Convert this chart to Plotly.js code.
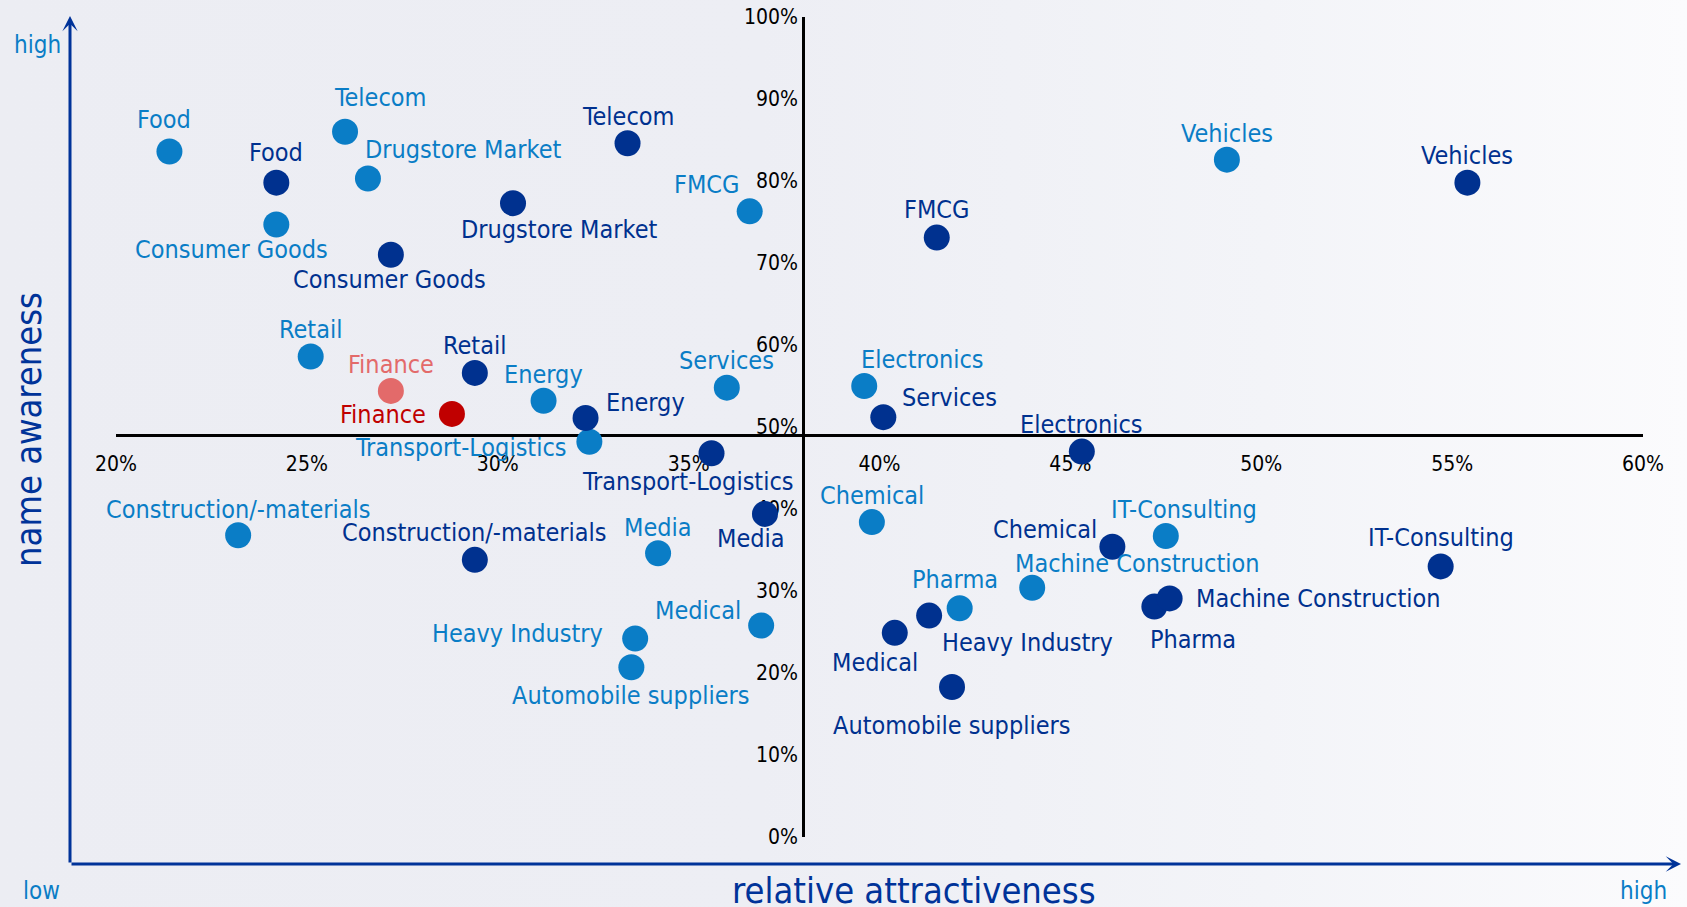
<!DOCTYPE html>
<html>
<head>
<meta charset="utf-8">
<script src="https://cdn.plot.ly/plotly-3.0.1.min.js"></script>
<style>
  html, body { margin: 0; padding: 0; }
  body {
    width: 1687px; height: 907px; overflow: hidden;
    background: linear-gradient(to right, #ECEDF3 0%, #EDEEF4 45%, #F3F4F8 75%, #FBFBFD 100%);
  }
  #chart { width: 1687px; height: 907px; }
</style>
</head>
<body>
<div id="chart"></div>
<script>
// ---------------- data ----------------
const sectors = ['Food', 'Telecom', 'Drugstore Market', 'Consumer Goods', 'Retail', 'Finance', 'Energy',
  'Transport-Logistics', 'FMCG', 'Services', 'Electronics', 'Vehicles', 'Construction/-materials', 'Media',
  'Medical', 'Heavy Industry', 'Automobile suppliers', 'Chemical', 'Pharma', 'Machine Construction', 'IT-Consulting'];

// light-blue series
const attractA = [21.4, 26.0, 26.6, 24.2, 25.1, 27.2, 31.2, 32.4, 36.6, 36.0, 39.6, 49.1, 23.2, 34.2, 36.9, 33.6, 33.5, 39.8, 42.1, 44.0, 47.5];
const awareA   = [83.6, 86.0, 80.3, 74.7, 58.6, 54.4, 53.2, 48.2, 76.3, 54.8, 55.0, 82.6, 36.8, 34.6, 25.8, 24.2, 20.7, 38.4, 27.9, 30.4, 36.7];
// dark-blue series
const attractB = [24.2, 33.4, 30.4, 27.2, 29.4, 28.8, 32.3, 35.6, 41.5, 40.1, 45.3, 55.4, 29.4, 37.0, 40.4, 41.3, 41.9, 46.1, 47.2, 47.6, 54.7];
const awareB   = [79.8, 84.6, 77.3, 71.0, 56.6, 51.6, 51.1, 46.8, 73.1, 51.2, 47.0, 79.8, 33.8, 39.4, 24.9, 27.0, 18.3, 35.4, 28.1, 29.1, 33.0];

const highlight = 'Finance';
const xTickVals = [20, 25, 30, 35, 40, 45, 50, 55, 60];
const yTickVals = [0, 10, 20, 30, 40, 50, 60, 70, 80, 90, 100];

// ---------------- styles / label placement ----------------
const COL_A = '#0A7DC6', COL_B = '#00318F', COL_A_HI = '#E36A6A', COL_B_HI = '#C00000', TITLE_COL = '#003399';
const FONT = '"DejaVu Sans Condensed", "DejaVu Sans", sans-serif';
const LABEL_SIZE = 25;
const xRange = [20, 60], yRange = [0, 100];
const crossX = 38, crossY = 49;

// [anchor, dx, dy] in pixels (dy positive = down)
const labA = [['center',-5,-32],['left',-13,-34],['left',-5,-29],['right',54,25],['center',0,-27],['center',0,-26],['center',0,-26],
  ['right',-20,6],['right',-8,-27],['center',0,-27],['left',-5,-27],['center',0,-26],['center',0,-26],['center',0,-26],
  ['right',-18,-15],['right',-30,-5],['center',0,28],['center',0,-27],['center',-5,-29],['left',-19,-24],['left',-57,-27]];
const labB = [['center',0,-30],['center',0,-27],['left',-54,26],['center',-1,25],['center',0,-27],['right',-24,1],['left',18,-15],
  ['center',-24,28],['center',0,-28],['left',17,-20],['center',0,-27],['center',0,-27],['center',0,-27],['center',-14,25],
  ['center',-20,30],['left',11,27],['center',0,39],['right',-13,-17],['left',-6,33],['left',24,0],['center',0,-29]];

const colorsA = sectors.map(s => s === highlight ? COL_A_HI : COL_A);
const colorsB = sectors.map(s => s === highlight ? COL_B_HI : COL_B);

const traces = [
  { x: attractA, y: awareA, type: 'scatter', mode: 'markers', name: 'A', hoverinfo: 'skip', cliponaxis: false,
    marker: { size: 26, color: colorsA } },
  { x: attractB, y: awareB, type: 'scatter', mode: 'markers', name: 'B', hoverinfo: 'skip', cliponaxis: false,
    marker: { size: 26, color: colorsB } }
];

const annotations = [];
function addLabels(xs, ys, labs, colors) {
  sectors.forEach((s, i) => {
    const [anc, dx, dy] = labs[i];
    annotations.push({ x: xs[i], y: ys[i], xref: 'x', yref: 'y', text: s, showarrow: false,
      xanchor: anc, yanchor: 'middle', xshift: dx, yshift: -dy,
      font: { family: FONT, size: LABEL_SIZE, color: colors[i] } });
  });
}
addLabels(attractA, awareA, labA, colorsA);
addLabels(attractB, awareB, labB, colorsB);

// plot geometry (pixels)
const W = 1687, H = 907;
const M = { l: 116, r: 44, t: 17, b: 70 };
const PW = W - M.l - M.r, PH = H - M.t - M.b;
const px = x => (x - M.l) / PW;          // pixel x -> paper
const py = y => 1 - (y - M.t) / PH;      // pixel y -> paper

// outer arrows
annotations.push({ x: px(70), y: py(16), xref: 'paper', yref: 'paper', ax: 0, ay: 864 - 16, axref: 'pixel', ayref: 'pixel',
  text: '', showarrow: true, arrowhead: 3, arrowsize: 0.85, arrowwidth: 3, arrowcolor: TITLE_COL });
annotations.push({ x: px(1681), y: py(864), xref: 'paper', yref: 'paper', ax: -(1681 - 70), ay: 0,
  text: '', showarrow: true, arrowhead: 3, arrowsize: 0.85, arrowwidth: 3, arrowcolor: TITLE_COL });

// corner texts and titles
annotations.push({ x: px(37), y: py(45), xref: 'paper', yref: 'paper', text: 'high', showarrow: false,
  xanchor: 'center', yanchor: 'middle', font: { family: FONT, size: 24, color: COL_A } });
annotations.push({ x: px(41), y: py(891), xref: 'paper', yref: 'paper', text: 'low', showarrow: false,
  xanchor: 'center', yanchor: 'middle', font: { family: FONT, size: 24, color: COL_A } });
annotations.push({ x: px(1643), y: py(891), xref: 'paper', yref: 'paper', text: 'high', showarrow: false,
  xanchor: 'center', yanchor: 'middle', font: { family: FONT, size: 24, color: COL_A } });
annotations.push({ x: px(914), y: py(890), xref: 'paper', yref: 'paper', text: 'relative attractiveness', showarrow: false,
  xanchor: 'center', yanchor: 'middle', font: { family: FONT, size: 36, color: TITLE_COL } });
annotations.push({ x: px(28), y: py(430), xref: 'paper', yref: 'paper', text: 'name awareness', showarrow: false,
  textangle: -90, xanchor: 'center', yanchor: 'middle', font: { family: FONT, size: 36, color: TITLE_COL } });

const layout = {
  width: W, height: H,
  margin: M,
  paper_bgcolor: 'rgba(0,0,0,0)', plot_bgcolor: 'rgba(0,0,0,0)',
  showlegend: false,
  font: { family: FONT },
  xaxis: {
    range: xRange, anchor: 'free', position: (crossY - yRange[0]) / (yRange[1] - yRange[0]),
    tickvals: xTickVals, ticktext: xTickVals.map(v => v + '%'), ticklabelstandoff: 9,
    showgrid: false, zeroline: false, showline: true, linecolor: '#000', linewidth: 3, ticks: '',
    tickfont: { family: FONT, size: 21, color: '#000' }, layer: 'below traces', fixedrange: true
  },
  yaxis: {
    range: yRange, anchor: 'free', position: (crossX - xRange[0]) / (xRange[1] - xRange[0]),
    tickvals: yTickVals, ticktext: yTickVals.map(v => v + '%'),
    showgrid: false, zeroline: false, showline: true, linecolor: '#000', linewidth: 3, ticks: '',
    tickfont: { family: FONT, size: 21, color: '#000' }, layer: 'below traces', fixedrange: true
  },
  annotations: annotations
};

Plotly.newPlot('chart', traces, layout, { displayModeBar: false, staticPlot: true });
</script>
</body>
</html>
